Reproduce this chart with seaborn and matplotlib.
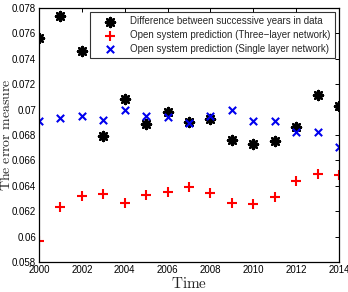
import matplotlib
matplotlib.use('Agg')
import matplotlib.pyplot as plt
import seaborn as sns
import pandas as pd

years = list(range(2000, 2015))
diff_data = [0.07563, 0.0774, 0.07462, 0.0679, 0.07085, 0.06888, 0.06982,
             0.06902, 0.06924, 0.06762, 0.06728, 0.06752, 0.06862, 0.07118, 0.07028]
three_layer = [0.05963, 0.06232, 0.06319, 0.06338, 0.06264, 0.06327, 0.06353,
               0.06387, 0.06345, 0.06264, 0.06258, 0.06314, 0.06438, 0.06493, 0.06482]
single_layer = [0.06912, 0.06932, 0.06952, 0.0692, 0.06994, 0.0695, 0.06938,
                0.06897, 0.0695, 0.06994, 0.0691, 0.0691, 0.06826, 0.06826, 0.06708]

labels = ["Difference between successive years in data",
          "Open system prediction (Three\u2212layer network)",
          "Open system prediction (Single layer network)"]
xticks = [2000, 2002, 2004, 2006, 2008, 2010, 2012, 2014]
yticks = [0.058, 0.06, 0.062, 0.064, 0.066, 0.068, 0.07, 0.072, 0.074, 0.076, 0.078]

sns.set_style("white")
plt.rcParams['font.family'] = ['Liberation Sans', 'DejaVu Sans']
plt.rcParams['mathtext.fontset'] = 'cm'

fig = plt.figure(figsize=(3.48, 2.92), dpi=100)
ax = fig.add_axes([39/348, 30/292, 300/348, 254/292])

df = pd.DataFrame({"year": years, "d": diff_data, "t": three_layer, "s": single_layer})
sns.scatterplot(data=df, x="year", y="d", ax=ax, marker=(8, 2, 0), s=42,
                color="black", edgecolor="black", linewidth=1.8, label=labels[0])
sns.scatterplot(data=df, x="year", y="t", ax=ax, marker="+", s=60,
                color="red", linewidth=1.5, label=labels[1])
sns.scatterplot(data=df, x="year", y="s", ax=ax, marker="x", s=28,
                color="#0000ee", linewidth=1.5, label=labels[2])

ax.set_xlim(2000, 2014)
ax.set_ylim(0.058, 0.078)
ax.set_xticks(xticks)
ax.set_yticks(yticks)
ax.set_yticklabels([f"{v:g}" for v in yticks])
ax.tick_params(direction="in", length=3, width=0.7, labelsize=7, top=True, right=True,
               pad=2, colors="black")
for sp in ax.spines.values():
    sp.set_linewidth(0.9)
    sp.set_color("black")

ax.set_xlabel(r"$\mathrm{Time}$", fontsize=11, labelpad=1)
ax.set_ylabel(r"$\mathrm{The\ error\ measure}$", fontsize=10)
ax.yaxis.set_label_coords(-26/300, 0.5)

leg = ax.legend(loc="upper right", fontsize=7.0, frameon=True, fancybox=False,
                edgecolor="black", borderpad=0.4, labelspacing=0.4,
                handletextpad=0.35, borderaxespad=0.45, handlelength=3.4)
leg.get_frame().set_linewidth(0.8)

fig.savefig("out.png", dpi=100)
